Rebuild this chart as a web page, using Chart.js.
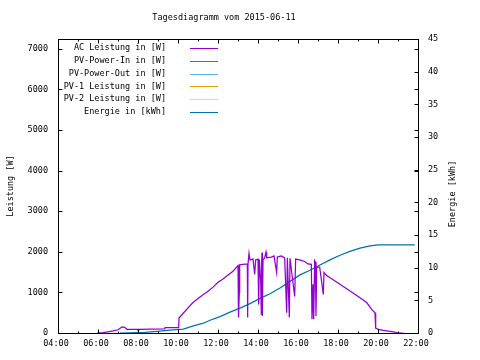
<!DOCTYPE html>
<html>
<head>
<meta charset="utf-8">
<script src="https://cdn.jsdelivr.net/npm/chart.js@4/dist/chart.umd.min.js"></script>
<style>
  html, body { margin: 0; background: #fff; }
  #chart { display: block; }
</style>
</head>
<body>
<canvas id="chart" width="480" height="360"></canvas>
<script>
const chartTitle = 'Tagesdiagramm vom 2015-06-11';
const yTitle = 'Leistung [W]';
const y2Title = 'Energie [kWh]';

const seriesLabels = ['AC Leistung in [W]', 'PV-Power-In in [W]', 'PV-Power-Out in [W]',
    'PV-1 Leistung in [W]', 'PV-2 Leistung in [W]', 'Energie in [kWh]'];
const seriesColors = ['#9400d3', '#009e73', '#56b4e9', '#e69f00', '#f0e442', '#0072b2'];

// AC power
const acTimes = ['05:57','06:15','06:30','06:45','07:00','07:12','07:20','07:27','07:59','08:00',
    '08:02','09:20','09:21','10:02','10:03','10:15','10:30','10:45','11:00','11:15',
    '11:30','11:45','12:00','12:15','12:30','12:45','13:00','13:01','13:02','13:04',
    '13:05','13:15','13:28','13:29','13:30','13:33','13:36','13:45','13:50','13:53',
    '14:00','14:02','14:04','14:08','14:10','14:11','14:12','14:13','14:15','14:20',
    '14:24','14:26','14:40','14:48','14:56','14:58','15:10','15:20','15:26','15:28',
    '15:34','15:36','15:50','15:53','16:05','16:20','16:30','16:40','16:42','16:45',
    '16:47','16:50','16:52','16:54','16:56','17:05','17:16','17:18','17:25','17:36',
    '18:06','18:36','19:06','19:26','19:41','19:51','19:53','20:01','20:16','20:46',
    '21:01','21:16'];
const acValues = [0, 10, 30, 50, 80, 150, 140, 90, 90, 60,
    90, 100, 130, 130, 370, 480, 620, 750, 850, 940,
    1030, 1130, 1250, 1330, 1430, 1520, 1660, 1000, 380, 1000,
    1680, 1690, 1700, 380, 1700, 1960, 1800, 1820, 1450, 1800,
    1820, 700, 1800, 1300, 460, 1750, 1980, 420, 1800, 1850,
    1990, 1850, 1870, 1900, 1490, 1870, 1900, 1850, 500, 1850,
    380, 1840, 900, 1820, 1800, 1760, 1700, 1690, 340, 1200,
    340, 1780, 1750, 420, 1620, 1620, 950, 1490, 1420, 1360,
    1200, 1035, 870, 750, 580, 500, 120, 90, 65, 30,
    5, 0];

// Energy
const energyTimes = ['07:06','08:20','09:06','09:36','10:16','10:46','11:16','11:36','12:06','12:36',
    '13:06','13:36','14:06','14:36','15:06','15:36','16:06','16:36','17:06','17:36',
    '18:06','18:36','19:06','19:36','20:00','21:50'];
const energyValues = [0, 0.1, 0.3, 0.45, 0.6, 1.1, 1.5, 1.95, 2.5, 3.2,
    3.8, 4.5, 5.3, 6.0, 6.9, 7.9, 8.9, 9.6, 10.4, 11.2,
    11.9, 12.5, 13.0, 13.35, 13.5, 13.5];

const xTickLabels = ['04:00','06:00','08:00','10:00','12:00','14:00','16:00','18:00','20:00','22:00'];
const xMinorTicks = ['05:00','07:00','09:00','11:00','13:00','15:00','17:00','19:00','21:00'];
const yTicks = [0, 1000, 2000, 3000, 4000, 5000, 6000, 7000];
const y2Ticks = [0, 5, 10, 15, 20, 25, 30, 35, 40, 45];

const toHours = (t) => {
    const [h, m] = t.split(':').map(Number);
    return h + m / 60;
};
const toPoints = (times, values) => times.map((t, i) => ({ x: toHours(t), y: values[i] }));

const FONT = '8.5px "DejaVu Sans Mono", monospace';

const gnuplotFrame = {
    id: 'gnuplotFrame',
    afterDraw(chart) {
        const { ctx, chartArea: a, scales: { x, y, y2 } } = chart;
        const L = a.left + 0.5, R = a.right + 0.5, T = a.top + 0.5, B = a.bottom + 0.5;
        ctx.save();
        ctx.strokeStyle = '#000';
        ctx.lineWidth = 1;

        ctx.beginPath();
        const hline = (x0, x1, yy) => { ctx.moveTo(x0, yy); ctx.lineTo(x1, yy); };
        const vline = (xx, y0, y1) => { ctx.moveTo(xx, y0); ctx.lineTo(xx, y1); };

        xTickLabels.forEach(t => {
            const px = Math.round(x.getPixelForValue(toHours(t))) + 0.5;
            vline(px, B, B - 4); vline(px, T, T + 4);
        });
        xMinorTicks.forEach(t => {
            const px = Math.round(x.getPixelForValue(toHours(t))) + 0.5;
            vline(px, B, B - 2); vline(px, T, T + 2);
        });
        yTicks.forEach(v => {
            const py = Math.round(y.getPixelForValue(v)) + 0.5;
            hline(L, L + 4, py); hline(R, R - 4, py);
        });
        y2Ticks.forEach(v => {
            const py = Math.round(y2.getPixelForValue(v)) + 0.5;
            hline(R, R - 4, py);
        });
        ctx.stroke();
        ctx.strokeRect(L, T, a.right - a.left, a.bottom - a.top);

        ctx.fillStyle = '#000';
        ctx.font = FONT;
        ctx.textBaseline = 'middle';

        ctx.textAlign = 'center';
        ctx.fillText(chartTitle, 224, 18);
        xTickLabels.forEach(t => ctx.fillText(t, x.getPixelForValue(toHours(t)) - 2, 344));

        ctx.textAlign = 'right';
        yTicks.forEach(v => ctx.fillText(String(v), 48, y.getPixelForValue(v)));
        ctx.textAlign = 'left';
        y2Ticks.forEach(v => ctx.fillText(String(v), 428, y2.getPixelForValue(v)));

        // rotated axis titles
        const midY = (a.top + a.bottom) / 2;
        ctx.textAlign = 'center';
        ctx.save();
        ctx.translate(11, midY);
        ctx.rotate(-Math.PI / 2);
        ctx.fillText(yTitle, 0, 0);
        ctx.restore();
        ctx.save();
        ctx.translate(453, midY + 8);
        ctx.rotate(-Math.PI / 2);
        ctx.fillText(y2Title, 0, 0);
        ctx.restore();

        // key, gnuplot style: text right-justified, sample line after it
        ctx.textAlign = 'right';
        chart.data.datasets.forEach((ds, i) => {
            const ky = 48 + i * 12.8;
            ctx.fillStyle = '#000';
            ctx.fillText(ds.label, 166, ky);
            ctx.strokeStyle = ds.borderColor;
            ctx.beginPath();
            ctx.moveTo(190, Math.round(ky) + 0.5);
            ctx.lineTo(218, Math.round(ky) + 0.5);
            ctx.stroke();
        });
        ctx.restore();
    }
};

const datasets = seriesLabels.map((label, i) => ({
    label,
    data: [],
    borderColor: seriesColors[i],
    backgroundColor: seriesColors[i],
    borderWidth: 1.25,
    pointRadius: 0,
    tension: 0,
    yAxisID: 'y'
}));
datasets[0].data = toPoints(acTimes, acValues);
datasets[5].data = toPoints(energyTimes, energyValues);
datasets[5].yAxisID = 'y2';

new Chart(document.getElementById('chart').getContext('2d'), {
    type: 'line',
    data: { datasets },
    options: {
        responsive: false,
        animation: false,
        devicePixelRatio: 1,
        layout: { padding: { left: 58, right: 62, top: 39, bottom: 27 } },
        scales: {
            x: { type: 'linear', min: 4, max: 22, display: false },
            y: { min: 0, max: 7240, display: false },
            y2: { min: 0, max: 45, display: false, position: 'right' }
        },
        plugins: {
            legend: { display: false },
            tooltip: { enabled: false }
        }
    },
    plugins: [gnuplotFrame]
});
</script>
</body>
</html>
